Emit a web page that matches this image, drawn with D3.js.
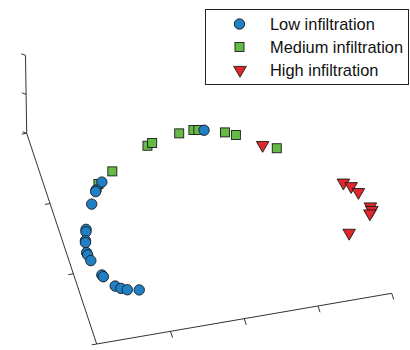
<!DOCTYPE html>
<html>
<head>
<meta charset="utf-8">
<script src="https://cdn.jsdelivr.net/npm/d3@7"></script>
<style>
  body { margin: 0; background: #fff; }
  svg { display: block; }
</style>
</head>
<body>
<div id="chart"></div>
<script>
// points in axis units (x along the front axis, y along the left axis)
const lowX  = [0.189, 0.162, 0.159, 0.133, 0.088, 0.085, 0.074, 0.072, 0.065, 0.066, 0.070, 0.090, 0.093, 0.121, 0.137, 0.156, 0.194, 0.572];
const lowY  = [0.723, 0.692, 0.685, 0.632, 0.523, 0.512, 0.473, 0.464, 0.418, 0.407, 0.379, 0.306, 0.297, 0.246, 0.231, 0.220, 0.210, 0.877];
const medX  = [0.234, 0.176, 0.374, 0.392, 0.489, 0.538, 0.554, 0.637, 0.669, 0.786];
const medY  = [0.763, 0.717, 0.851, 0.860, 0.882, 0.886, 0.882, 0.851, 0.831, 0.740];
const highX = [0.744, 0.963, 0.984, 1.001, 1.024, 1.025, 1.015, 0.928];
const highY = [0.765, 0.534, 0.512, 0.480, 0.406, 0.389, 0.375, 0.304];

const xTicks = [0.25, 0.5, 0.75, 1];
const yTicks = [0, 1/3, 2/3, 1];
const zTicks = [0, 0.5, 1];
const legendLabels = ["Low infiltration", "Medium infiltration", "High infiltration"];

const width = 410, height = 350;
const origin = [96.7, 344];

// each axis maps to a screen offset vector
const xv = d3.scaleLinear().domain([0, 1]).range([[0, 0], [295, -50.7]]);
const yv = d3.scaleLinear().domain([0, 1]).range([[0, 0], [-70, -210.7]]);
const zv = d3.scaleLinear().domain([0, 1]).range([[0, 0], [-1.2, -78]]);

function proj(x, y, z) {
  const a = xv(x), b = yv(y), c = zv(z || 0);
  return [origin[0] + a[0] + b[0] + c[0], origin[1] + a[1] + b[1] + c[1]];
}

const svg = d3.select("#chart").append("svg")
  .attr("width", width)
  .attr("height", height);

const axisColor = "#333";
const axes = svg.append("g")
  .attr("stroke", axisColor)
  .attr("stroke-width", 1)
  .attr("fill", "none");

const line = d3.line();
axes.append("path").attr("d", line([proj(0, 0, 0), proj(1, 0, 0)]));
axes.append("path").attr("d", line([proj(0, 0, 0), proj(0, 1, 0)]));
axes.append("path").attr("d", line([proj(0, 1, 0), proj(0, 1, 1)]));

// x ticks point toward the viewer (-y)
xTicks.forEach(t => {
  axes.append("path").attr("d", line([proj(t, 0, 0), proj(t, -0.03, 0)]));
});
// y ticks point left (-x)
yTicks.forEach(t => {
  axes.append("path").attr("d", line([proj(0, t, 0), proj(-0.017, t, 0)]));
});
// z ticks
zTicks.forEach(t => {
  axes.append("path").attr("d", line([proj(0, 1, t), proj(-0.012, 1.01, t)]));
});

const edge = "#1a1a1a";
const colors = ["#1f80c6", "#66bb47", "#e0272b"];

// green
svg.append("g").selectAll("rect")
  .data(d3.zip(medX, medY))
  .join("rect")
  .attr("x", d => proj(d[0], d[1])[0] - 4.5)
  .attr("y", d => proj(d[0], d[1])[1] - 4.5)
  .attr("width", 9).attr("height", 9)
  .attr("fill", colors[1]).attr("stroke", edge).attr("stroke-width", 0.9);

// red
const tri = d3.symbol().type(d3.symbolTriangle).size(68);
svg.append("g").selectAll("path")
  .data(d3.zip(highX, highY))
  .join("path")
  .attr("d", tri)
  .attr("transform", d => { const p = proj(d[0], d[1]); return `translate(${p[0]},${p[1]}) rotate(180)`; })
  .attr("fill", colors[2]).attr("stroke", edge).attr("stroke-width", 0.9);

// blue
svg.append("g").selectAll("circle")
  .data(d3.zip(lowX, lowY))
  .join("circle")
  .attr("cx", d => proj(d[0], d[1])[0])
  .attr("cy", d => proj(d[0], d[1])[1])
  .attr("r", 5.2)
  .attr("fill", colors[0]).attr("stroke", edge).attr("stroke-width", 0.9);

// legend
const lg = svg.append("g");
lg.append("rect")
  .attr("x", 205.5).attr("y", 9.5)
  .attr("width", 203).attr("height", 75)
  .attr("fill", "#fff").attr("stroke", "#222").attr("stroke-width", 1);

const rowY = d3.scalePoint().domain(legendLabels).range([24, 70]);
legendLabels.forEach((lab, i) => {
  const y = rowY(lab);
  if (i === 0) {
    lg.append("circle").attr("cx", 239.5).attr("cy", y).attr("r", 5.2)
      .attr("fill", colors[0]).attr("stroke", edge).attr("stroke-width", 0.9);
  } else if (i === 1) {
    lg.append("rect").attr("x", 235).attr("y", y - 4.5).attr("width", 9).attr("height", 9)
      .attr("fill", colors[1]).attr("stroke", edge).attr("stroke-width", 0.9);
  } else {
    lg.append("path").attr("d", tri).attr("transform", `translate(240,${y}) rotate(180)`)
      .attr("fill", colors[2]).attr("stroke", edge).attr("stroke-width", 0.9);
  }
  lg.append("text")
    .attr("x", 270).attr("y", y)
    .attr("dy", "0.35em")
    .attr("font-family", "'Liberation Sans', Arial, sans-serif")
    .attr("font-size", 16.4)
    .attr("fill", "#111")
    .text(lab);
});
</script>
</body>
</html>
